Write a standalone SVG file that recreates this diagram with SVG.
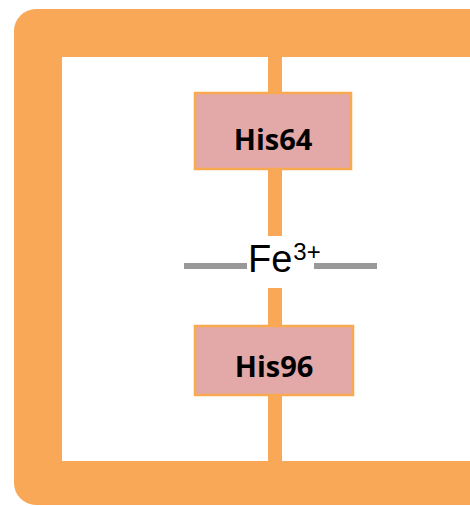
<svg xmlns="http://www.w3.org/2000/svg" width="470" height="506" viewBox="0 0 470 506">
<style>
.frame{fill:#F9A857;fill-rule:evenodd}
.bar{fill:#F9A857}
.box{fill:#E2A9A8;stroke:#F9A94F;stroke-width:2.5}
.lbl{font-family:"Open Sans","Liberation Sans",sans-serif;font-weight:bold;font-size:29px;fill:#000;text-anchor:middle}
.lig{stroke:#999999;stroke-width:6}
.fe{font-family:"Liberation Sans",Arial,sans-serif;fill:#000}
</style>
<rect width="470" height="506" fill="#fff"/>
<path class="frame" d="M36 9 H520 V505 H36 A22 22 0 0 1 14 483 V31 A22 22 0 0 1 36 9 Z M62 57 V461 H520 V57 Z"/>
<g id="connectors">
<rect class="bar" x="268" y="57" width="14" height="36"/>
<rect class="bar" x="268" y="169" width="14" height="67"/>
<rect class="bar" x="268" y="288" width="14" height="37"/>
<rect class="bar" x="268" y="395" width="14" height="66"/>
<line class="lig" x1="184" y1="266" x2="247" y2="266"/>
<line class="lig" x1="314" y1="266" x2="377" y2="266"/>
</g>
<g id="his64">
<rect class="box" x="195" y="93" width="156" height="76"/>
<text class="lbl" x="273" y="150">His64</text>
</g>
<g id="fe">
<text class="fe" x="248" y="272" font-size="38">Fe<tspan font-size="24" dx="1" dy="-12">3+</tspan></text>
</g>
<g id="his96">
<rect class="box" x="195" y="326" width="158" height="69"/>
<text class="lbl" x="274" y="377">His96</text>
</g>
</svg>
